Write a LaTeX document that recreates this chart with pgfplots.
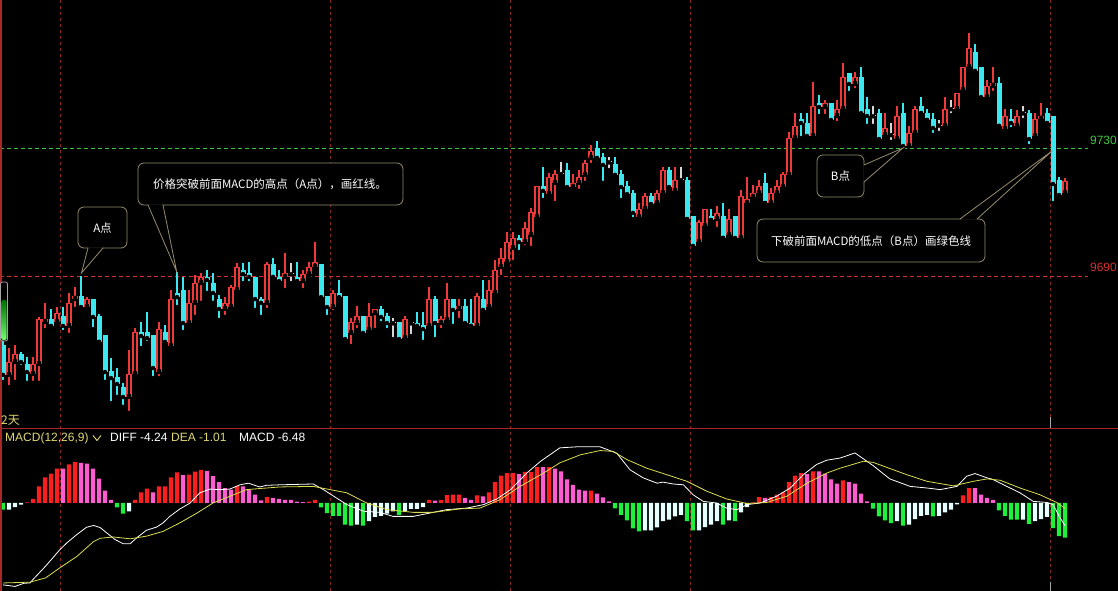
\documentclass[border=0pt]{standalone}
\usepackage{pgfplots}
\pgfplotsset{compat=1.18}
\usepackage{pgfplotstable}
\usepackage{fontspec}
\setmainfont{Liberation Sans}
\newfontfamily\cjk{Noto Sans CJK SC}
\definecolor{upred}{HTML}{F03A3A}
\definecolor{dncyan}{HTML}{3CE8F0}
\definecolor{dojiw}{HTML}{D8D8D8}
\definecolor{hred}{HTML}{FF1E1E}
\definecolor{hpink}{HTML}{FF5CD2}
\definecolor{hgreen}{HTML}{1EF03C}
\definecolor{hwhite}{HTML}{E6FFFF}
\definecolor{deay}{HTML}{DCDC50}
\definecolor{gridred}{HTML}{8C2323}
\definecolor{sepred}{HTML}{A82828}
\definecolor{lvgreen}{HTML}{3CC83C}
\definecolor{lvred}{HTML}{D83030}
\definecolor{boxc}{HTML}{968C6E}
\definecolor{txty}{HTML}{E0D870}

% up candles: index, wick low, body low, body high, wick high
\pgfplotstableread{
i wl bl bh wh
1 9655.3 9659.1 9663.1 9667.5
2 9656.9 9663.1 9665.6 9668.4
5 9656.6 9659.4 9662.5 9664.7
6 9656.6 9662.5 9676.6 9677.2
7 9673.1 9675.6 9676.6 9681.6
9 9674.4 9675.6 9678.4 9680.3
11 9671.6 9674.4 9681.6 9684.7
12 9679.7 9682.8 9683.75 9686.6
14 9679.7 9680.3 9682.8 9683.4
21 9647.2 9652.2 9659.4 9666.9
22 9658.4 9659.4 9672.5 9673.75
26 9658.1 9660.0 9673.4 9675.6
28 9667.5 9668.1 9682.8 9685.6
31 9675.3 9675.3 9681.6 9685.6
32 9677.2 9681.6 9687.8 9690.3
33 9681.6 9687.8 9689.7 9690.9
37 9677.2 9679.7 9681.6 9683.4
38 9679.7 9680.3 9686.6 9687.2
39 9684.7 9685.6 9692.8 9694.1
44 9679.4 9681.6 9693.75 9694.4
47 9685.6 9689.7 9690.9 9697.2
50 9685.6 9688.4 9690.6 9691.9
51 9689.7 9690.6 9692.8 9694.4
52 9691.9 9692.8 9694.4 9700.6
55 9678.75 9680.3 9684.7 9685.6
58 9668.1 9672.2 9675.6 9676.9
59 9673.1 9675.3 9677.5 9680.6
61 9672.2 9673.1 9677.5 9681.6
62 9673.1 9678.4 9679.7 9679.7
67 9669.4 9670.6 9676.6 9677.5
71 9674.4 9674.4 9682.8 9686.6
73 9673.1 9675.3 9676.6 9677.5
74 9676.25 9676.25 9682.8 9687.8
76 9676.25 9679.7 9680.6 9682.8
79 9674.4 9674.4 9683.75 9684.7
81 9680.3 9680.3 9685.6 9688.75
82 9683.4 9684.7 9691.9 9695.0
83 9689.7 9692.8 9695.6 9698.75
84 9694.4 9694.4 9700.6 9703.75
85 9694.4 9698.75 9701.9 9703.75
87 9699.1 9700.6 9705.0 9706.9
88 9698.75 9702.8 9710.0 9711.25
89 9707.5 9708.4 9718.1 9718.1
91 9715.6 9715.6 9720.9 9722.2
92 9712.8 9719.1 9721.9 9723.1
95 9716.6 9717.8 9719.1 9721.9
96 9716.6 9719.1 9720.9 9723.1
97 9719.1 9721.6 9725.3 9726.25
98 9724.7 9726.9 9729.1 9730.9
106 9708.4 9708.4 9711.0 9712.8
107 9711.0 9711.0 9715.0 9715.9
109 9712.8 9712.8 9715.9 9716.9
110 9715.9 9715.9 9723.1 9724.1
112 9716.6 9716.6 9720.0 9724.1
116 9700.0 9700.6 9706.9 9707.5
117 9704.7 9705.6 9711.0 9711.0
119 9704.7 9707.8 9709.7 9711.9
121 9702.8 9702.8 9707.8 9711.0
123 9701.9 9701.9 9715.0 9716.9
124 9712.8 9712.8 9714.1 9720.9
125 9714.4 9714.7 9715.9 9718.4
126 9715.6 9715.9 9718.1 9720.0
128 9712.2 9712.8 9715.9 9717.5
129 9715.3 9715.9 9718.1 9720.0
130 9717.8 9717.8 9721.9 9722.5
131 9720.9 9721.6 9733.1 9735.0
132 9733.1 9733.1 9736.9 9740.9
135 9733.75 9733.75 9743.1 9750.6
137 9740.0 9742.8 9744.1 9745.0
139 9737.8 9740.0 9742.2 9745.0
140 9742.2 9742.2 9752.2 9756.6
142 9748.1 9750.0 9752.2 9753.75
147 9732.8 9734.1 9736.25 9740.9
149 9731.9 9732.8 9740.0 9743.1
151 9730.6 9730.6 9734.7 9736.9
152 9734.7 9734.7 9742.2 9743.1
157 9736.9 9736.9 9742.2 9745.9
159 9742.2 9742.2 9747.2 9747.2
160 9748.1 9748.1 9755.3 9755.3
161 9755.3 9755.3 9761.25 9765.9
164 9745.9 9745.9 9749.4 9751.25
165 9747.2 9749.4 9750.3 9755.3
167 9735.0 9735.9 9740.0 9742.2
169 9736.25 9736.9 9740.0 9741.9
172 9733.75 9733.75 9739.1 9740.9
173 9738.75 9739.1 9740.0 9744.1
177 9714.7 9715.9 9719.7 9720.6
}\uptab

% down candles
\pgfplotstableread{
i wl bl bh wh
0 9656.9 9659.1 9668.4 9670.0
3 9661.6 9663.1 9665.6 9666.25
4 9656.6 9660.0 9662.5 9664.7
8 9674.1 9674.4 9676.6 9679.7
10 9672.5 9674.4 9677.5 9680.3
13 9679.4 9680.3 9683.75 9690.0
15 9673.4 9677.2 9682.8 9682.8
16 9669.4 9669.4 9677.5 9678.1
17 9656.9 9660.0 9671.6 9671.6
18 9650.3 9658.1 9660.3 9664.4
19 9652.2 9656.25 9658.4 9661.25
20 9649.1 9652.2 9655.3 9656.6
23 9667.5 9671.25 9672.5 9675.6
24 9669.1 9670.6 9672.5 9678.75
25 9658.1 9661.25 9671.6 9671.6
27 9669.1 9669.4 9672.5 9674.7
29 9680.3 9683.4 9684.7 9691.25
30 9672.5 9675.3 9685.6 9689.7
34 9684.7 9688.75 9689.7 9691.9
35 9681.6 9684.7 9687.8 9690.9
36 9676.25 9679.7 9682.8 9684.1
40 9687.8 9690.6 9691.9 9694.1
41 9687.8 9689.7 9690.9 9694.4
42 9679.4 9682.8 9689.7 9689.7
43 9677.2 9681.6 9682.8 9683.4
45 9688.75 9689.7 9693.75 9695.6
46 9687.2 9688.4 9689.7 9691.9
49 9688.4 9688.4 9689.7 9694.4
53 9682.5 9683.4 9693.75 9693.75
54 9677.2 9680.3 9683.75 9683.75
56 9682.5 9683.4 9684.7 9688.75
57 9669.4 9670.3 9683.75 9683.75
60 9671.25 9672.2 9677.5 9677.5
63 9675.3 9677.2 9679.7 9680.6
64 9673.1 9675.3 9677.5 9678.4
66 9669.4 9670.3 9675.6 9675.6
69 9674.1 9674.4 9675.3 9678.75
70 9669.4 9673.4 9674.7 9678.75
72 9670.3 9675.3 9682.8 9683.75
75 9674.4 9679.4 9682.8 9682.8
77 9674.4 9675.3 9680.6 9682.8
78 9674.4 9674.4 9675.3 9682.8
80 9678.4 9679.4 9682.8 9688.75
86 9697.5 9700.6 9701.9 9702.8
90 9713.75 9716.6 9718.1 9724.1
94 9716.6 9717.8 9723.1 9725.3
99 9725.6 9726.9 9730.0 9732.2
100 9719.1 9724.7 9727.2 9728.4
102 9720.9 9721.6 9725.0 9727.2
103 9713.75 9717.8 9721.9 9723.1
104 9714.4 9715.6 9718.1 9719.7
105 9707.8 9709.7 9715.9 9716.9
108 9711.6 9712.5 9715.0 9715.9
111 9716.6 9717.8 9723.1 9724.1
114 9707.8 9707.8 9720.0 9720.9
115 9698.4 9699.4 9708.75 9708.75
118 9707.5 9707.5 9708.75 9711.0
120 9701.9 9701.9 9708.75 9712.8
122 9701.25 9701.9 9708.75 9708.75
127 9712.8 9712.8 9719.1 9722.2
133 9733.1 9737.8 9739.1 9740.9
134 9733.1 9733.75 9737.8 9740.9
136 9740.0 9742.8 9744.1 9746.6
138 9737.8 9738.75 9744.1 9744.1
141 9747.2 9750.0 9753.4 9753.4
143 9740.3 9740.9 9752.2 9755.3
144 9736.9 9740.0 9742.2 9745.9
146 9731.9 9732.8 9740.9 9742.2
150 9730.0 9730.6 9740.9 9744.1
153 9740.9 9740.9 9743.1 9745.9
154 9738.75 9738.75 9740.9 9742.2
155 9734.1 9736.25 9739.1 9740.9
162 9753.4 9754.1 9760.0 9762.5
163 9745.3 9745.9 9755.3 9755.3
166 9736.9 9736.9 9750.3 9752.2
168 9735.9 9737.8 9739.1 9742.2
171 9730.6 9732.8 9740.9 9741.9
174 9737.8 9737.8 9740.9 9742.5
175 9712.8 9718.75 9740.0 9740.0
176 9714.7 9715.3 9720.0 9720.9
}\dntab

% doji candles
\pgfplotstableread{
i wl bl bh wh
48 9687.8 9690.5 9690.8 9694.1
65 9670.3 9675.2 9675.5 9676.9
68 9671.25 9675.2 9675.5 9675.6
93 9720.9 9721.8 9722.1 9725.6
101 9723.1 9725.5 9725.8 9727.2
113 9719.4 9719.9 9720.2 9724.1
145 9736.9 9739.9 9740.2 9743.1
148 9731.9 9734.0 9734.3 9737.8
156 9734.7 9737.0 9737.3 9738.75
158 9740.3 9742.1 9742.4 9745.0
170 9738.75 9740.8 9741.1 9743.1
}\dojitab

% MACD histogram
\pgfplotstableread{
i v
4 0.1
5 0.75
6 3.1
7 4.8
8 5.5
9 6.4
11 7.2
12 7.7
22 0.6
23 2.0
24 2.7
26 3.1
27 3.1
28 4.8
29 5.7
31 5.3
32 5.85
33 6.2
39 3.2
44 1.1
51 0.25
52 0.6
71 0.6
73 0.6
74 1.45
75 1.55
76 1.55
79 1.4
81 2.0
82 3.9
83 5.1
84 5.6
85 5.6
87 5.8
88 5.8
89 6.7
91 6.7
98 2.3
125 0.1
126 1.1
128 1.1
129 1.55
130 2.0
131 3.9
132 5.1
133 5.6
135 5.9
140 4.25
160 1.4
161 2.8
}\hred

\pgfplotstableread{
i v
10 6.4
13 7.5
14 7.35
15 6.4
16 4.55
17 2.3
18 0.6
25 2.0
30 5.2
34 6.0
35 5.0
36 3.9
37 2.8
38 2.5
40 3.1
41 2.5
42 1.55
43 0.5
45 0.95
46 0.75
47 0.6
48 0.6
49 0.25
50 0.15
72 0.45
77 0.95
78 0.6
80 1.25
86 5.4
90 6.7
92 6.4
93 5.9
94 4.4
95 3.4
96 2.5
97 2.3
99 1.75
100 1.05
101 0.3
127 0.95
134 5.4
136 5.9
137 5.5
138 4.4
139 3.6
141 3.9
142 3.6
143 1.75
144 0.3
162 2.8
163 1.55
164 0.95
165 0.6
}\hpink

\pgfplotstableread{
i v
0 -1.25
19 -0.8
20 -2.0
53 -0.8
54 -1.9
55 -2.4
56 -2.4
57 -4.05
58 -4.25
60 -4.25
66 -2.2
102 -1.0
103 -2.2
104 -3.25
105 -4.75
106 -5.3
114 -3.4
115 -5.1
120 -4.05
122 -3.4
145 -1.05
146 -2.5
147 -3.25
148 -3.75
150 -4.25
155 -2.5
166 -1.4
167 -2.4
168 -3.1
169 -3.1
171 -3.9
175 -4.7
176 -6.2
177 -6.48
}\hgreen

\pgfplotstableread{
i v
1 -1.25
2 -0.75
3 -0.3
21 -1.55
59 -4.05
61 -3.4
62 -2.6
63 -2.4
64 -2.0
65 -1.55
67 -1.55
68 -1.1
69 -1.1
70 -0.75
107 -5.1
108 -5.1
109 -4.55
110 -3.4
111 -3.1
112 -2.5
113 -2.2
116 -5.1
117 -4.5
118 -4.05
119 -3.4
121 -3.25
123 -1.75
124 -0.75
149 -3.4
151 -4.05
152 -3.0
153 -2.4
154 -2.2
156 -2.4
157 -1.75
158 -1.25
159 -0.25
170 -3.1
172 -3.4
173 -3.0
174 -2.6
}\hwhite

\pgfplotsset{
  candleseg/.style 2 args={only marks, mark=none, forget plot,
    error bars/.cd, y dir=plus, y explicit, error mark=none,
    error bar style={line width=#2, draw=#1, solid}},
}

\begin{document}
\begin{tikzpicture}
\fill[black] (0pt,0pt) rectangle (1118pt,591pt);
% grid lines (behind the data)
\foreach \gx in {60.5,330.5,510.5,690.5,1050.5}{
  \draw[gridred, line width=0.9pt, dash pattern=on 3pt off 3pt] (\gx pt,0pt) -- (\gx pt,591pt);
}
\draw[lvgreen, line width=0.9pt, dash pattern=on 4pt off 3pt] (0pt,443pt) -- (1088pt,443pt);
\draw[lvred, line width=0.9pt, dash pattern=on 4pt off 3pt] (0pt,315pt) -- (1088pt,315pt);

% price panel
\begin{axis}[at={(0pt,162pt)}, anchor=south west, width=1118pt, height=429pt, scale only axis,
  xmin=-0.5, xmax=185.8333, ymin=9642.19, ymax=9776.25, axis lines=none]
\addplot[candleseg={upred}{1.1pt}] table[x=i, y=wl, y error expr=\thisrow{wh}-\thisrow{wl}] {\uptab};
\addplot[candleseg={dncyan}{1.1pt}] table[x=i, y=wl, y error expr=\thisrow{wh}-\thisrow{wl}] {\dntab};
\addplot[candleseg={dojiw}{1.1pt}] table[x=i, y=wl, y error expr=\thisrow{wh}-\thisrow{wl}] {\dojitab};
\addplot[candleseg={upred}{5.2pt}] table[x=i, y=bl, y error expr=\thisrow{bh}-\thisrow{bl}] {\uptab};
\addplot[candleseg={black}{2.8pt}] table[x=i, y expr=\thisrow{bl}+0.36, y error expr={max(\thisrow{bh}-\thisrow{bl}-0.72,0)}] {\uptab};
\addplot[candleseg={dncyan}{5pt}] table[x=i, y=bl, y error expr=\thisrow{bh}-\thisrow{bl}] {\dntab};
\addplot[candleseg={dojiw}{5pt}] table[x=i, y=bl, y error expr=\thisrow{bh}-\thisrow{bl}] {\dojitab};
\end{axis}

% MACD panel
\begin{axis}[at={(0pt,0pt)}, anchor=south west, width=1118pt, height=162pt, scale only axis,
  xmin=-0.5, xmax=185.8333, ymin=-16.45, ymax=13.83, axis lines=none]
\addplot[ybar, bar width=0.72, bar shift=0pt, fill=hred, draw=none] table[x=i,y=v] {\hred};
\addplot[ybar, bar width=0.72, bar shift=0pt, fill=hpink, draw=none] table[x=i,y=v] {\hpink};
\addplot[ybar, bar width=0.72, bar shift=0pt, fill=hgreen, draw=none] table[x=i,y=v] {\hgreen};
\addplot[ybar, bar width=0.72, bar shift=0pt, fill=hwhite, draw=none] table[x=i,y=v] {\hwhite};
% DIFF
\addplot[white, line width=0.8pt, mark=none] coordinates {
(0,-15.3)(2,-15.6)(3.5,-15.0)(4.5,-14.95)(5,-14.3)(7.1,-11.8)(8.5,-10.0)(9.5,-8.7)(10.7,-7.4)(12.3,-5.9)(13.9,-4.55)(15.1,-4.2)(16.2,-4.6)(17.3,-5.6)(18.7,-6.85)(20,-7.6)(21.2,-7.6)(22.3,-6.5)(23.9,-5.1)(25.6,-4.5)(26.7,-3.7)(27.8,-2.5)(29.5,-1.1)(31.2,0)(32.8,1.9)(34.5,2.6)(36.2,2.5)(37.8,2.6)(39.5,3.4)(40.9,3.7)(42.8,3.0)(43.9,3.3)(46.2,3.4)(51.7,3.55)(53.4,2.5)(57.3,-0.3)(60.1,-1.55)(62.8,-1.75)(65,-2.5)(68.4,-2.5)(70.6,-2.0)(73.9,-1.25)(77.3,-0.95)(80.1,-0.3)(82.3,0.75)(84.6,2.5)(87.3,5.6)(89.6,7.8)(92.8,10.3)(95.6,10.5)(99.5,10.5)(102.3,9.3)(104.5,6.2)(106.7,4.7)(109,3.7)(110,3.9)(111.7,3.55)(113.4,3.4)(115,1.55)(116.7,0.3)(118.9,0)(120.6,-0.95)(122.3,-1.25)(124,-0.3)(126.2,0)(128.9,1.25)(131.2,2.8)(133.4,5.3)(135.6,7.2)(137.3,8.0)(139.5,8.4)(142,9.35)(145,7.0)(147.8,4.5)(151.2,3.1)(154,2.8)(156.2,2.5)(159,3.1)(160.6,5.0)(162,5.5)(164,4.7)(165,4.4)(167.3,3.1)(169.5,1.9)(171.7,0.3)(174,0.1)(175,-0.3)(176.2,-2.8)(177,-4.24)
};
% DEA
\addplot[deay, line width=0.8pt, mark=none] coordinates {
(0,-14.95)(4.5,-14.8)(7.1,-14.0)(9.5,-12.1)(12.3,-10.0)(15.1,-7.2)(16.2,-6.6)(18.4,-6.35)(21.2,-6.7)(23.9,-6.2)(26.7,-5.3)(29.5,-3.7)(32.3,-1.9)(35,0)(37.8,1.25)(40.6,2.5)(43.9,2.8)(46.2,3.0)(51.7,3.1)(57.3,1.9)(60.6,0)(64,-1.25)(68.4,-1.75)(71.7,-1.75)(76.2,-1.1)(79.5,-0.95)(82.8,0.6)(86.2,3.1)(90.1,5.6)(92.8,7.5)(96.2,9.0)(99.5,9.8)(101.7,9.65)(104,8.1)(107.3,6.5)(110.6,5.3)(114,4.05)(117.3,2.2)(120.6,0.75)(124,-0.1)(127.3,0.1)(130.6,1.25)(134,3.7)(137.3,5.6)(139.5,6.5)(143.4,7.8)(145,7.6)(150.6,5.3)(154,4.05)(158.4,3.2)(161.7,4.05)(164,4.5)(166.2,4.25)(169.5,2.8)(172.8,1.55)(175.6,0.1)(177,-1.01)
};
\end{axis}

% frame lines
\draw[sepred, line width=1.2pt] (0pt,162.5pt) -- (1118pt,162.5pt);
\draw[sepred, line width=1.5pt] (0.75pt,0pt) -- (0.75pt,591pt);
\draw[gray!70, line width=0.8pt] (1050.5pt,0pt) -- (1050.5pt,9pt);
\draw[gray!70, line width=0.8pt] (1050.5pt,163pt) -- (1050.5pt,174pt);

% left scroll marker
\draw[gray!70, line width=0.8pt, fill=black, rounded corners=2pt] (0.5pt,250pt) rectangle (7.5pt,309pt);
\shade[top color=green!45!black, bottom color=green!55!white, rounded corners=2pt] (1.3pt,251pt) rectangle (6.7pt,291pt);

% price level labels
\node[anchor=base east, inner sep=0pt, text=lvgreen, font=\fontsize{12}{12}\selectfont] at (1117pt,446pt) {9730};
\node[anchor=base east, inner sep=0pt, text=lvred, font=\fontsize{12}{12}\selectfont] at (1117pt,319pt) {9690};
\node[anchor=base west, inner sep=0pt, text=txty, font=\cjk\fontsize{12}{12}\selectfont] at (1pt,166pt) {2天};

% MACD header
\node[anchor=base west, inner sep=0pt, text=txty, font=\fontsize{12}{12}\selectfont] at (5pt,149pt) {MACD(12,26,9)};
\draw[txty, line width=0.9pt] (93pt,155.5pt) -- (97pt,150.5pt) -- (101pt,155.5pt);
\node[anchor=base west, inner sep=0pt, text=white, font=\fontsize{12}{12}\selectfont] at (110pt,149pt) {DIFF -4.24};
\node[anchor=base west, inner sep=0pt, text=txty, font=\fontsize{12}{12}\selectfont] at (171pt,149pt) {DEA -1.01};
\node[anchor=base west, inner sep=0pt, text=white, font=\fontsize{12}{12}\selectfont] at (239pt,149pt) {MACD -6.48};

% callouts
\tikzset{cbox/.style={draw=boxc, line width=0.8pt, fill=black, rounded corners=6pt},
         ctail/.style={draw=boxc, line width=0.8pt},
         ctext/.style={text=white, inner sep=0pt, font=\cjk\fontsize{11.5}{12}\selectfont}}
% A
\path[cbox] (78pt,343pt) rectangle (127pt,384pt);
\fill[black] (88.6pt,343.6pt) -- (81.5pt,318pt) -- (102.4pt,343.6pt) -- cycle;
\draw[ctail] (88pt,343pt) -- (81.5pt,318pt) -- (103pt,343pt);
\node[ctext] at (102.5pt,363pt) {A点};
% long A text
\path[cbox] (138pt,386pt) rectangle (403pt,428pt);
\fill[black] (148.6pt,386.6pt) -- (176.7pt,319.3pt) -- (162.4pt,386.6pt) -- cycle;
\draw[ctail] (148pt,386pt) -- (176.7pt,319.3pt) -- (163pt,386pt);
\node[ctext] at (270pt,407pt) {价格突破前面MACD的高点（A点），画红线。};
% B
\path[cbox] (817pt,394pt) rectangle (864pt,436pt);
\fill[black] (863.4pt,425.4pt) -- (903pt,443pt) -- (863.4pt,409.6pt) -- cycle;
\draw[ctail] (864pt,426pt) -- (903pt,443pt) -- (864pt,409pt);
\node[ctext] at (840.5pt,414.5pt) {B点};
% long B text
\path[cbox] (757pt,329pt) rectangle (985pt,372pt);
\fill[black] (960.6pt,371.4pt) -- (1052pt,440pt) -- (976.4pt,371.4pt) -- cycle;
\draw[ctail] (960pt,372pt) -- (1052pt,440pt) -- (977pt,372pt);
\node[ctext] at (871pt,350pt) {下破前面MACD的低点（B点）画绿色线};

\pgfresetboundingbox
\useasboundingbox (0pt,0pt) rectangle (1118pt,591pt);
\end{tikzpicture}
\end{document}
